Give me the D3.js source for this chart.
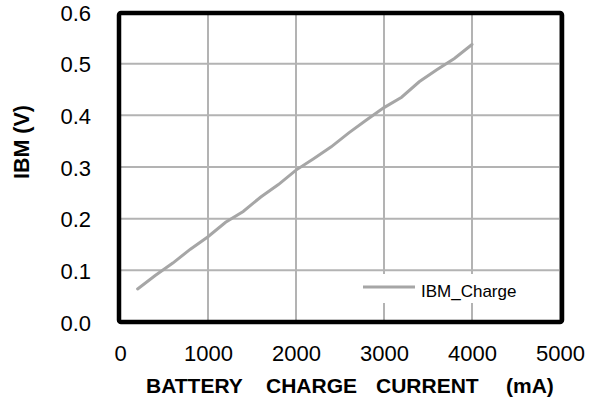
<!DOCTYPE html>
<html><head><meta charset="utf-8">
<script src="https://cdn.jsdelivr.net/npm/d3@7/dist/d3.min.js"></script>
<style>body{margin:0;background:#fff;} text{font-family:"Liberation Sans",Arial,sans-serif;}</style>
</head><body><svg id="c" width="599" height="401"></svg>
<script>
const current = [200,400,600,800,1000,1200,1400,1600,1800,2000,2200,2400,2600,2800,3000,3200,3400,3600,3800,4000];
const ibmCharge = [0.064,0.090,0.114,0.141,0.165,0.193,0.214,0.242,0.266,0.294,0.316,0.339,0.366,0.391,0.415,0.435,0.465,0.488,0.510,0.537];
const xTicks = [0,1000,2000,3000,4000,5000];
const yTicks = [0,0.1,0.2,0.3,0.4,0.5,0.6];
const seriesName = "IBM_Charge";
const xTitleWords = ["BATTERY","CHARGE","CURRENT","(mA)"];
const yTitle = "IBM (V)";

const svg = d3.select("#c");
const L=120, R=560, T=12, B=322;
const x = d3.scaleLinear().domain([0,5000]).range([L,R]);
const y = d3.scaleLinear().domain([0,0.6]).range([B,T]);

// grid
svg.append("g").selectAll("line").data(xTicks).join("line")
  .attr("x1",d=>x(d)).attr("x2",d=>x(d)).attr("y1",T).attr("y2",B)
  .attr("stroke","#b3b3b3").attr("stroke-width",2);
svg.append("g").selectAll("line").data(yTicks).join("line")
  .attr("y1",d=>y(d)).attr("y2",d=>y(d)).attr("x1",L).attr("x2",R)
  .attr("stroke","#b3b3b3").attr("stroke-width",2);

// legend background
svg.append("rect").attr("x",352).attr("y",274).attr("width",206).attr("height",29).attr("fill","#fff");

// line
svg.append("path").datum(current.map((c,i)=>[c,ibmCharge[i]]))
  .attr("d",d3.line().x(d=>x(d[0])).y(d=>y(d[1])))
  .attr("fill","none").attr("stroke","#a6a6a6").attr("stroke-width",3).attr("stroke-linecap","round");

// frame
svg.append("rect").attr("x",L-1).attr("y",T+1).attr("width",R-L+3).attr("height",B-T-1)
  .attr("fill","none").attr("stroke","#000").attr("stroke-width",4.5).attr("rx",2);

// axes labels
const xa = svg.append("g").attr("transform",`translate(0,361)`)
  .call(d3.axisBottom(x).tickValues(xTicks).tickSize(0).tickPadding(0).tickFormat(d3.format("d")));
xa.select(".domain").remove();
xa.selectAll("text").attr("font-size",22).attr("fill","#000").attr("dy",0).attr("y",0);

const ya = svg.append("g").attr("transform",`translate(91,0)`)
  .call(d3.axisLeft(y).tickValues(yTicks).tickSize(0).tickPadding(0).tickFormat(d3.format(".1f")));
ya.select(".domain").remove();
ya.selectAll("text").attr("font-size",22).attr("fill","#000").attr("dy",8).attr("x",0)
  .attr("dominant-baseline","auto");

// titles
const xWordPos = [146,266,376,506];
const xt = svg.append("text").attr("y",393).attr("font-size",21).attr("font-weight","bold");
xt.selectAll("tspan").data(xTitleWords).join("tspan").attr("x",(d,i)=>xWordPos[i]).text(d=>d);
svg.append("text").attr("transform","translate(28.5,142) rotate(-90)").attr("text-anchor","middle")
  .attr("font-size",21.5).attr("font-weight","bold").style("white-space","pre")
  .text(yTitle);

// legend
svg.append("line").attr("x1",363).attr("x2",415).attr("y1",287).attr("y2",287)
  .attr("stroke","#a6a6a6").attr("stroke-width",3);
svg.append("text").attr("x",421).attr("y",296.5).attr("font-size",17).text(seriesName);
</script></body></html>
